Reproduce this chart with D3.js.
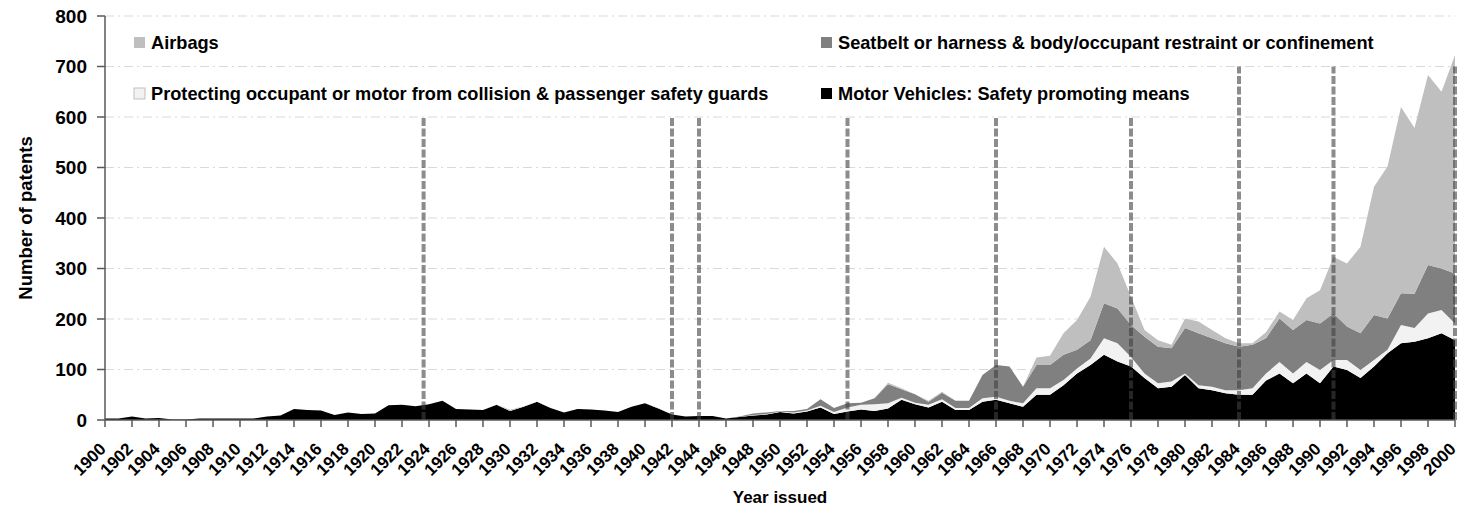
<!DOCTYPE html>
<html>
<head>
<meta charset="utf-8">
<script src="https://cdn.jsdelivr.net/npm/d3@7/dist/d3.min.js"></script>
<style>
  html, body { margin: 0; padding: 0; background: #fff; }
  svg { display: block; }
  .lbl { font-family: "Liberation Sans", Arial, sans-serif; font-weight: bold; fill: #000; }
</style>
</head>
<body>
<svg id="chart" width="1476" height="508"></svg>
<script>
const years = d3.range(1900, 2001);

// Motor Vehicles: Safety promoting means
const motor = [
  3, 3, 7, 3, 4, 1, 1, 3, 3, 3,
  3, 3, 7, 9, 22, 20, 19, 10, 15, 12,
  13, 29, 30, 27, 31, 38, 22, 21, 20, 30,
  18, 26, 36, 24, 15, 22, 21, 19, 16, 26,
  33, 23, 11, 7, 8, 8, 3, 6, 9, 11,
  16, 13, 17, 25, 12, 17, 21, 18, 23, 40,
  31, 25, 36, 20, 20, 36, 40, 33, 26, 50,
  50, 69, 92, 109, 129, 116, 106, 83, 63, 66,
  89, 63, 59, 53, 50, 50, 78, 92, 73, 92,
  73, 106, 99, 83, 106, 132, 152, 155, 162, 172,
  158
];
// Protecting occupant or motor from collision & passenger safety guards
const protecting = [
  0, 0, 0, 0, 0, 0, 0, 0, 0, 0,
  0, 0, 0, 0, 0, 0, 0, 0, 0, 0,
  0, 0, 0, 0, 0, 0, 0, 0, 0, 1,
  1, 1, 1, 0, 0, 0, 0, 0, 0, 0,
  0, 1, 0, 0, 0, 0, 0, 0, 1, 1,
  1, 2, 2, 3, 4, 8, 9, 13, 10, 4,
  3, 5, 5, 4, 4, 7, 6, 5, 7, 13,
  13, 10, 10, 13, 33, 36, 19, 9, 10, 10,
  3, 6, 7, 6, 9, 13, 14, 23, 19, 23,
  26, 13, 20, 16, 13, 7, 36, 27, 49, 46,
  33
];
// Seatbelt or harness & body/occupant restraint or confinement
const seatbelt = [
  0, 0, 0, 0, 0, 0, 0, 0, 0, 0,
  0, 0, 0, 0, 0, 0, 0, 0, 0, 0,
  0, 0, 0, 0, 0, 0, 0, 0, 0, 0,
  1, 0, 0, 0, 0, 0, 0, 0, 0, 0,
  0, 0, 0, 0, 0, 0, 0, 1, 3, 3,
  1, 3, 3, 13, 8, 8, 4, 12, 38, 17,
  17, 6, 13, 14, 14, 46, 63, 68, 33, 46,
  46, 50, 37, 36, 69, 69, 63, 73, 72, 66,
  90, 103, 96, 93, 86, 86, 70, 86, 86, 83,
  92, 92, 66, 73, 89, 62, 63, 68, 96, 82,
  99
];
// Airbags
const airbags = [
  0, 0, 0, 0, 0, 0, 0, 0, 0, 0,
  0, 0, 0, 0, 0, 0, 0, 0, 0, 0,
  0, 0, 0, 0, 0, 0, 0, 0, 0, 0,
  0, 0, 0, 0, 0, 0, 0, 0, 0, 0,
  0, 0, 0, 0, 0, 0, 0, 0, 0, 0,
  0, 0, 0, 0, 0, 0, 0, 0, 3, 2,
  0, 2, 2, 0, 0, 0, 0, 0, 0, 15,
  18, 43, 59, 86, 112, 89, 56, 13, 13, 7,
  19, 23, 16, 10, 7, 3, 12, 14, 20, 43,
  66, 112, 125, 171, 254, 301, 369, 328, 376, 350,
  433
];

const seriesNames = [
  "Motor Vehicles: Safety promoting means",
  "Protecting occupant or motor from collision & passenger safety guards",
  "Seatbelt or harness & body/occupant restraint or confinement",
  "Airbags"
];
const seriesColors = ["#000000", "#f2f2f2", "#808080", "#bfbfbf"];

// Vertical marker lines (year, height)
const markerYears = [1923.6, 1942, 1944, 1955, 1966, 1976, 1984, 1991, 2000];
const markerHeights = [600, 600, 600, 600, 600, 600, 700, 700, 700];

const yTicks = [0, 100, 200, 300, 400, 500, 600, 700, 800];
const xTickYears = d3.range(1900, 2001, 2);

const svg = d3.select("#chart");
const x = d3.scaleLinear().domain([1900, 2000]).range([105, 1455]);
const y = d3.scaleLinear().domain([0, 800]).range([420, 16]);

// gridlines
svg.append("g").selectAll("line").data(yTicks.filter(d => d > 0)).join("line")
  .attr("x1", x(1900)).attr("x2", x(2000))
  .attr("y1", d => y(d)).attr("y2", d => y(d))
  .attr("stroke", "#d9d9d9").attr("stroke-width", 1)
  .attr("stroke-dasharray", "9,4,2,4");

// stacked areas
const table = years.map((yr, i) => ({
  year: yr, m: motor[i], p: protecting[i], s: seatbelt[i], a: airbags[i]
}));
const keys = ["m", "p", "s", "a"];
const stacked = d3.stack().keys(keys)(table);
const area = d3.area()
  .x(d => x(d.data.year))
  .y0(d => y(d[0]))
  .y1(d => y(d[1]));
svg.append("g").selectAll("path").data(stacked).join("path")
  .attr("d", area)
  .attr("fill", (d, i) => seriesColors[i]);

// marker dashed lines
svg.append("g").selectAll("line").data(markerYears).join("line")
  .attr("x1", d => x(d)).attr("x2", d => x(d))
  .attr("y1", y(0)).attr("y2", (d, i) => y(markerHeights[i]))
  .attr("stroke", "#404040").attr("stroke-opacity", 0.6)
  .attr("stroke-width", 4).attr("stroke-dasharray", "8,2.5");

// y axis
const ax = svg.append("g");
ax.append("line").attr("x1", x(1900)).attr("x2", x(1900)).attr("y1", y(0)).attr("y2", y(800))
  .attr("stroke", "#595959").attr("stroke-width", 1.5);
ax.append("g").selectAll("line").data(yTicks).join("line")
  .attr("x1", x(1900) - 8).attr("x2", x(1900))
  .attr("y1", d => y(d)).attr("y2", d => y(d))
  .attr("stroke", "#595959").attr("stroke-width", 1.5);
ax.append("g").selectAll("text").data(yTicks).join("text")
  .attr("class", "lbl")
  .attr("x", 87).attr("y", d => y(d) + 6.5)
  .attr("text-anchor", "end")
  .attr("font-size", 19)
  .text(d => d);

// x axis
ax.append("line").attr("x1", x(1900)).attr("x2", x(2000)).attr("y1", y(0)).attr("y2", y(0))
  .attr("stroke", "#595959").attr("stroke-width", 1.5);
ax.append("g").selectAll("line").data(xTickYears).join("line")
  .attr("x1", d => x(d)).attr("x2", d => x(d))
  .attr("y1", y(0)).attr("y2", y(0) + 7)
  .attr("stroke", "#595959").attr("stroke-width", 1.5);
ax.append("g").selectAll("text").data(xTickYears).join("text")
  .attr("class", "lbl")
  .attr("text-anchor", "end")
  .attr("font-size", 17)
  .attr("transform", d => `translate(${x(d) + 2},${y(0) + 30}) rotate(-45)`)
  .text(d => d);

// axis titles
svg.append("text").attr("class", "lbl").attr("x", 780).attr("y", 503).attr("text-anchor", "middle")
  .attr("font-size", 17).text("Year issued");
svg.append("text").attr("class", "lbl").attr("transform", "translate(32,218) rotate(-90)").attr("text-anchor", "middle")
  .attr("font-size", 18.5).text("Number of patents");

// legend
const legendItems = [
  { name: seriesNames[3], color: seriesColors[3], x: 134, y: 37 },
  { name: seriesNames[1], color: seriesColors[1], x: 134, y: 88 },
  { name: seriesNames[2], color: seriesColors[2], x: 821, y: 37 },
  { name: seriesNames[0], color: seriesColors[0], x: 821, y: 88 }
];
const lg = svg.append("g").selectAll("g").data(legendItems).join("g")
  .attr("transform", d => `translate(${d.x},${d.y})`);
lg.append("rect").attr("width", 11).attr("height", 11)
  .attr("fill", d => d.color)
  .attr("stroke", d => d.color === "#f2f2f2" ? "#bfbfbf" : "none").attr("stroke-width", 1);
lg.append("text").attr("class", "lbl").attr("x", 17).attr("y", 11.5)
  .attr("font-size", 18.2).text(d => d.name);
</script>
</body>
</html>
